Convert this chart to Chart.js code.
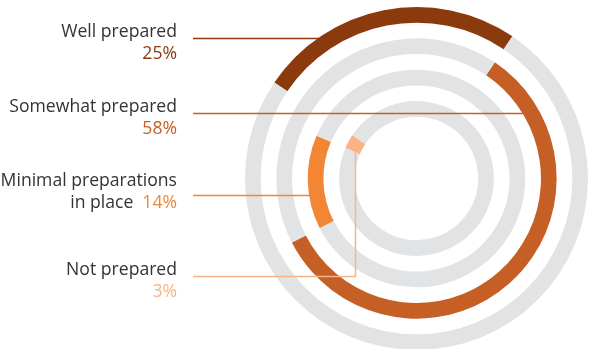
<!DOCTYPE html>
<html>
<head>
<meta charset="utf-8">
<script src="https://cdn.jsdelivr.net/npm/chart.js@4/dist/chart.umd.min.js"></script>
<style>
  html, body { margin: 0; padding: 0; background: #ffffff; overflow: hidden; }
  #wrap { position: relative; width: 590px; height: 352px; }
</style>
</head>
<body>
<div id="wrap"><canvas id="c" width="590" height="352"></canvas></div>
<script>
// ---- data ----
const categories = ["Well prepared", "Somewhat prepared", "Minimal preparations in place", "Not prepared"];
const labelLines = [["Well prepared"], ["Somewhat prepared"], ["Minimal preparations", "in place"], ["Not prepared"]];
const values = [25, 58, 14, 3];
const seriesColors = ["#8b3a0e", "#c55f26", "#f28634", "#f9b384"];
const trackColor = "#e2e3e4";
const startAngle = -56;

// build rings: data rings separated by transparent spacer rings
const datasets = [];
let cum = 0;
values.forEach((v, i) => {
  if (i > 0) {
    datasets.push({ data: [1], backgroundColor: ["rgba(0,0,0,0)"], borderWidth: 0, spacer: true });
  }
  datasets.push({
    label: categories[i],
    data: [v, 100 - v],
    backgroundColor: [seriesColors[i], trackColor],
    borderWidth: 0,
    rotation: startAngle + cum * 3.6
  });
  cum += v;
});

const textColor = "#333333";
const FONT = "17.6px 'Open Sans', 'Noto Sans', sans-serif";

const leaderPlugin = {
  id: 'leaders',
  afterDraw(chart) {
    const ctx = chart.ctx;
    const ringMeta = i => chart.getDatasetMeta(i * 2);
    const arc0 = ringMeta(0).data[0];
    const cx = arc0.x, cy = arc0.y;
    const textX = 177;
    const lineX0 = 193;
    // label layouts: baseline of first line, leader y
    const layout = [
      { base: 37, lineY: 38.5 },
      { base: 112, lineY: 113.5 },
      { base: 186, lineY: 195.5 },
      { base: 275, lineY: 276.5 }
    ];
    ctx.save();
    ctx.font = FONT;
    ctx.textAlign = 'right';
    ctx.textBaseline = 'alphabetic';
    layout.forEach((L, i) => {
      const lines = labelLines[i];
      const pct = values[i] + '%';
      ctx.fillStyle = textColor;
      if (lines.length === 1) {
        ctx.fillText(lines[0], textX, L.base);
        ctx.fillStyle = seriesColors[i];
        ctx.fillText(pct, textX, L.base + 21.5);
      } else {
        ctx.fillText(lines[0], textX, L.base);
        ctx.fillStyle = seriesColors[i];
        ctx.fillText(pct, textX, L.base + 21.5);
        const pw = ctx.measureText(pct).width;
        ctx.fillStyle = textColor;
        ctx.fillText(lines[1], textX - pw - 9, L.base + 21.5);
      }
    });
    ctx.lineWidth = 1.5;
    const el = i => ringMeta(i).data[0];
    // Well prepared -> outer edge of ring 0, left side
    {
      const R = el(0).outerRadius, dy = layout[0].lineY - cy;
      const x = cx - Math.sqrt(R * R - dy * dy);
      ctx.strokeStyle = seriesColors[0];
      ctx.beginPath(); ctx.moveTo(lineX0, layout[0].lineY); ctx.lineTo(x + 2, layout[0].lineY); ctx.stroke();
    }
    // Somewhat prepared -> inner edge of ring 1, right side
    {
      const r = el(1).innerRadius, dy = layout[1].lineY - cy;
      const x = cx + Math.sqrt(r * r - dy * dy);
      ctx.strokeStyle = seriesColors[1];
      ctx.beginPath(); ctx.moveTo(lineX0, layout[1].lineY); ctx.lineTo(x + 1, layout[1].lineY); ctx.stroke();
    }
    // Minimal -> outer edge of ring 2, left side
    {
      const R = el(2).outerRadius, dy = layout[2].lineY - cy;
      const x = cx - Math.sqrt(R * R - dy * dy);
      ctx.strokeStyle = seriesColors[2];
      ctx.beginPath(); ctx.moveTo(lineX0, layout[2].lineY); ctx.lineTo(x + 1, layout[2].lineY); ctx.stroke();
    }
    // Not prepared -> elbow up to ring 3 arc
    {
      const e = el(3);
      const vx = 355.5;
      const rm = (e.innerRadius + e.outerRadius) / 2;
      const dx = vx - cx;
      const yTop = cy - Math.sqrt(Math.max(rm * rm - dx * dx, 0));
      ctx.strokeStyle = seriesColors[3];
      ctx.beginPath();
      ctx.moveTo(lineX0, layout[3].lineY);
      ctx.lineTo(vx, layout[3].lineY);
      ctx.lineTo(vx, yTop);
      ctx.stroke();
    }
    ctx.restore();
  }
};

new Chart(document.getElementById('c'), {
  type: 'doughnut',
  data: { labels: ["value", "rest"], datasets },
  options: {
    responsive: false,
    animation: false,
    events: [],
    cutout: '36%',
    layout: { padding: { left: 245, right: 2, top: 7, bottom: 2 } },
    plugins: { legend: { display: false }, tooltip: { enabled: false } }
  },
  plugins: [leaderPlugin]
});
</script>
</body>
</html>
